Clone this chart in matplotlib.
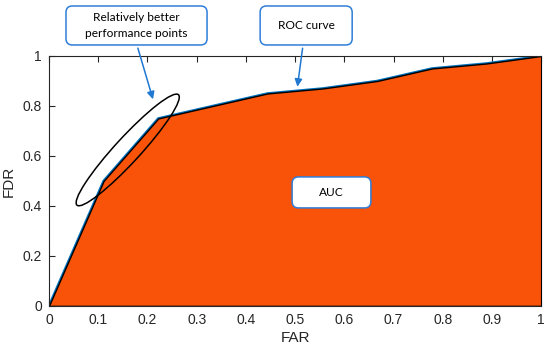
import matplotlib.pyplot as plt
import matplotlib.transforms as mtransforms
from matplotlib.patches import Ellipse, FancyBboxPatch
import numpy as np

far = [0, 0.111, 0.222, 0.333, 0.444, 0.556, 0.667, 0.778, 0.889, 1.0]
fdr = [0, 0.50, 0.75, 0.80, 0.85, 0.87, 0.90, 0.95, 0.97, 1.0]
xticks = np.arange(0, 1.01, 0.1)
yticks = np.arange(0, 1.01, 0.2)

orange = "#F9530A"
blue = "#0072BD"
box_blue = "#2F7ED8"
axcol = "#262626"

plt.rcParams["font.family"] = ["Liberation Sans", "DejaVu Sans"]

fig = plt.figure(figsize=(5.5, 3.52), dpi=100)
ax = fig.add_axes([0.089, 0.131, 0.895, 0.71])
ax.set_axisbelow(True)

ax.fill_between(far, fdr, 0, facecolor=orange, edgecolor="black", linewidth=1.0, zorder=2)
ax.plot(far, fdr, color=blue, linewidth=1.8, zorder=1)

ax.set_xlim(0, 1)
ax.set_ylim(0, 1)
ax.set_xticks(xticks)
ax.set_yticks(yticks)
ax.set_xticklabels([f"{v:g}" for v in xticks])
ax.set_yticklabels([f"{v:g}" for v in yticks])
ax.tick_params(direction="in", top=True, right=False, length=4, width=0.8,
               colors=axcol, labelsize=10, pad=5)
for s in ax.spines.values():
    s.set_color(axcol)
    s.set_linewidth(0.8)
ax.spines["right"].set_color("black")
ax.set_xlabel("FAR", fontsize=11, color=axcol, labelpad=3)
ax.set_ylabel("FDR", fontsize=11, color=axcol, labelpad=5)

# ellipse around the better points, sized in pixels
etrans = mtransforms.ScaledTranslation(0.16, 0.624, ax.transData)
ax.add_patch(Ellipse((0, 0), 150, 25, angle=47.4, transform=etrans,
                     facecolor="none", edgecolor="black", linewidth=1.1,
                     zorder=4, clip_on=False))

asp = 492 / 250
boxes = [
    ((0.0346, 1.044), 0.2866, 0.156, "Relatively better\nperformance points"),
    ((0.429, 1.044), 0.187, 0.156, "ROC curve"),
    ((0.494, 0.392), 0.160, 0.124, "AUC"),
]
for (x0, y0), w, h, txt in boxes:
    ax.add_patch(FancyBboxPatch((x0, y0), w, h,
                                boxstyle="round,pad=0,rounding_size=0.013",
                                mutation_aspect=asp, facecolor="white",
                                edgecolor=box_blue, linewidth=1.1,
                                zorder=5, clip_on=False))
    ax.text(x0 + w / 2, y0 + h / 2, txt, ha="center", va="center",
            fontsize=8.6, family=["Lato", "DejaVu Sans"], color="black",
            linespacing=1.55, zorder=6, clip_on=False)

arrow = dict(arrowstyle="-|>", color="#1F78D1", lw=1.1, mutation_scale=11)
ax.annotate("", xy=(0.213, 0.816), xytext=(0.179, 1.042),
            arrowprops=arrow, annotation_clip=False, zorder=5)
ax.annotate("", xy=(0.504, 0.866), xytext=(0.516, 1.042),
            arrowprops=arrow, annotation_clip=False, zorder=5)

plt.savefig("out.png", dpi=100)
plt.close()
